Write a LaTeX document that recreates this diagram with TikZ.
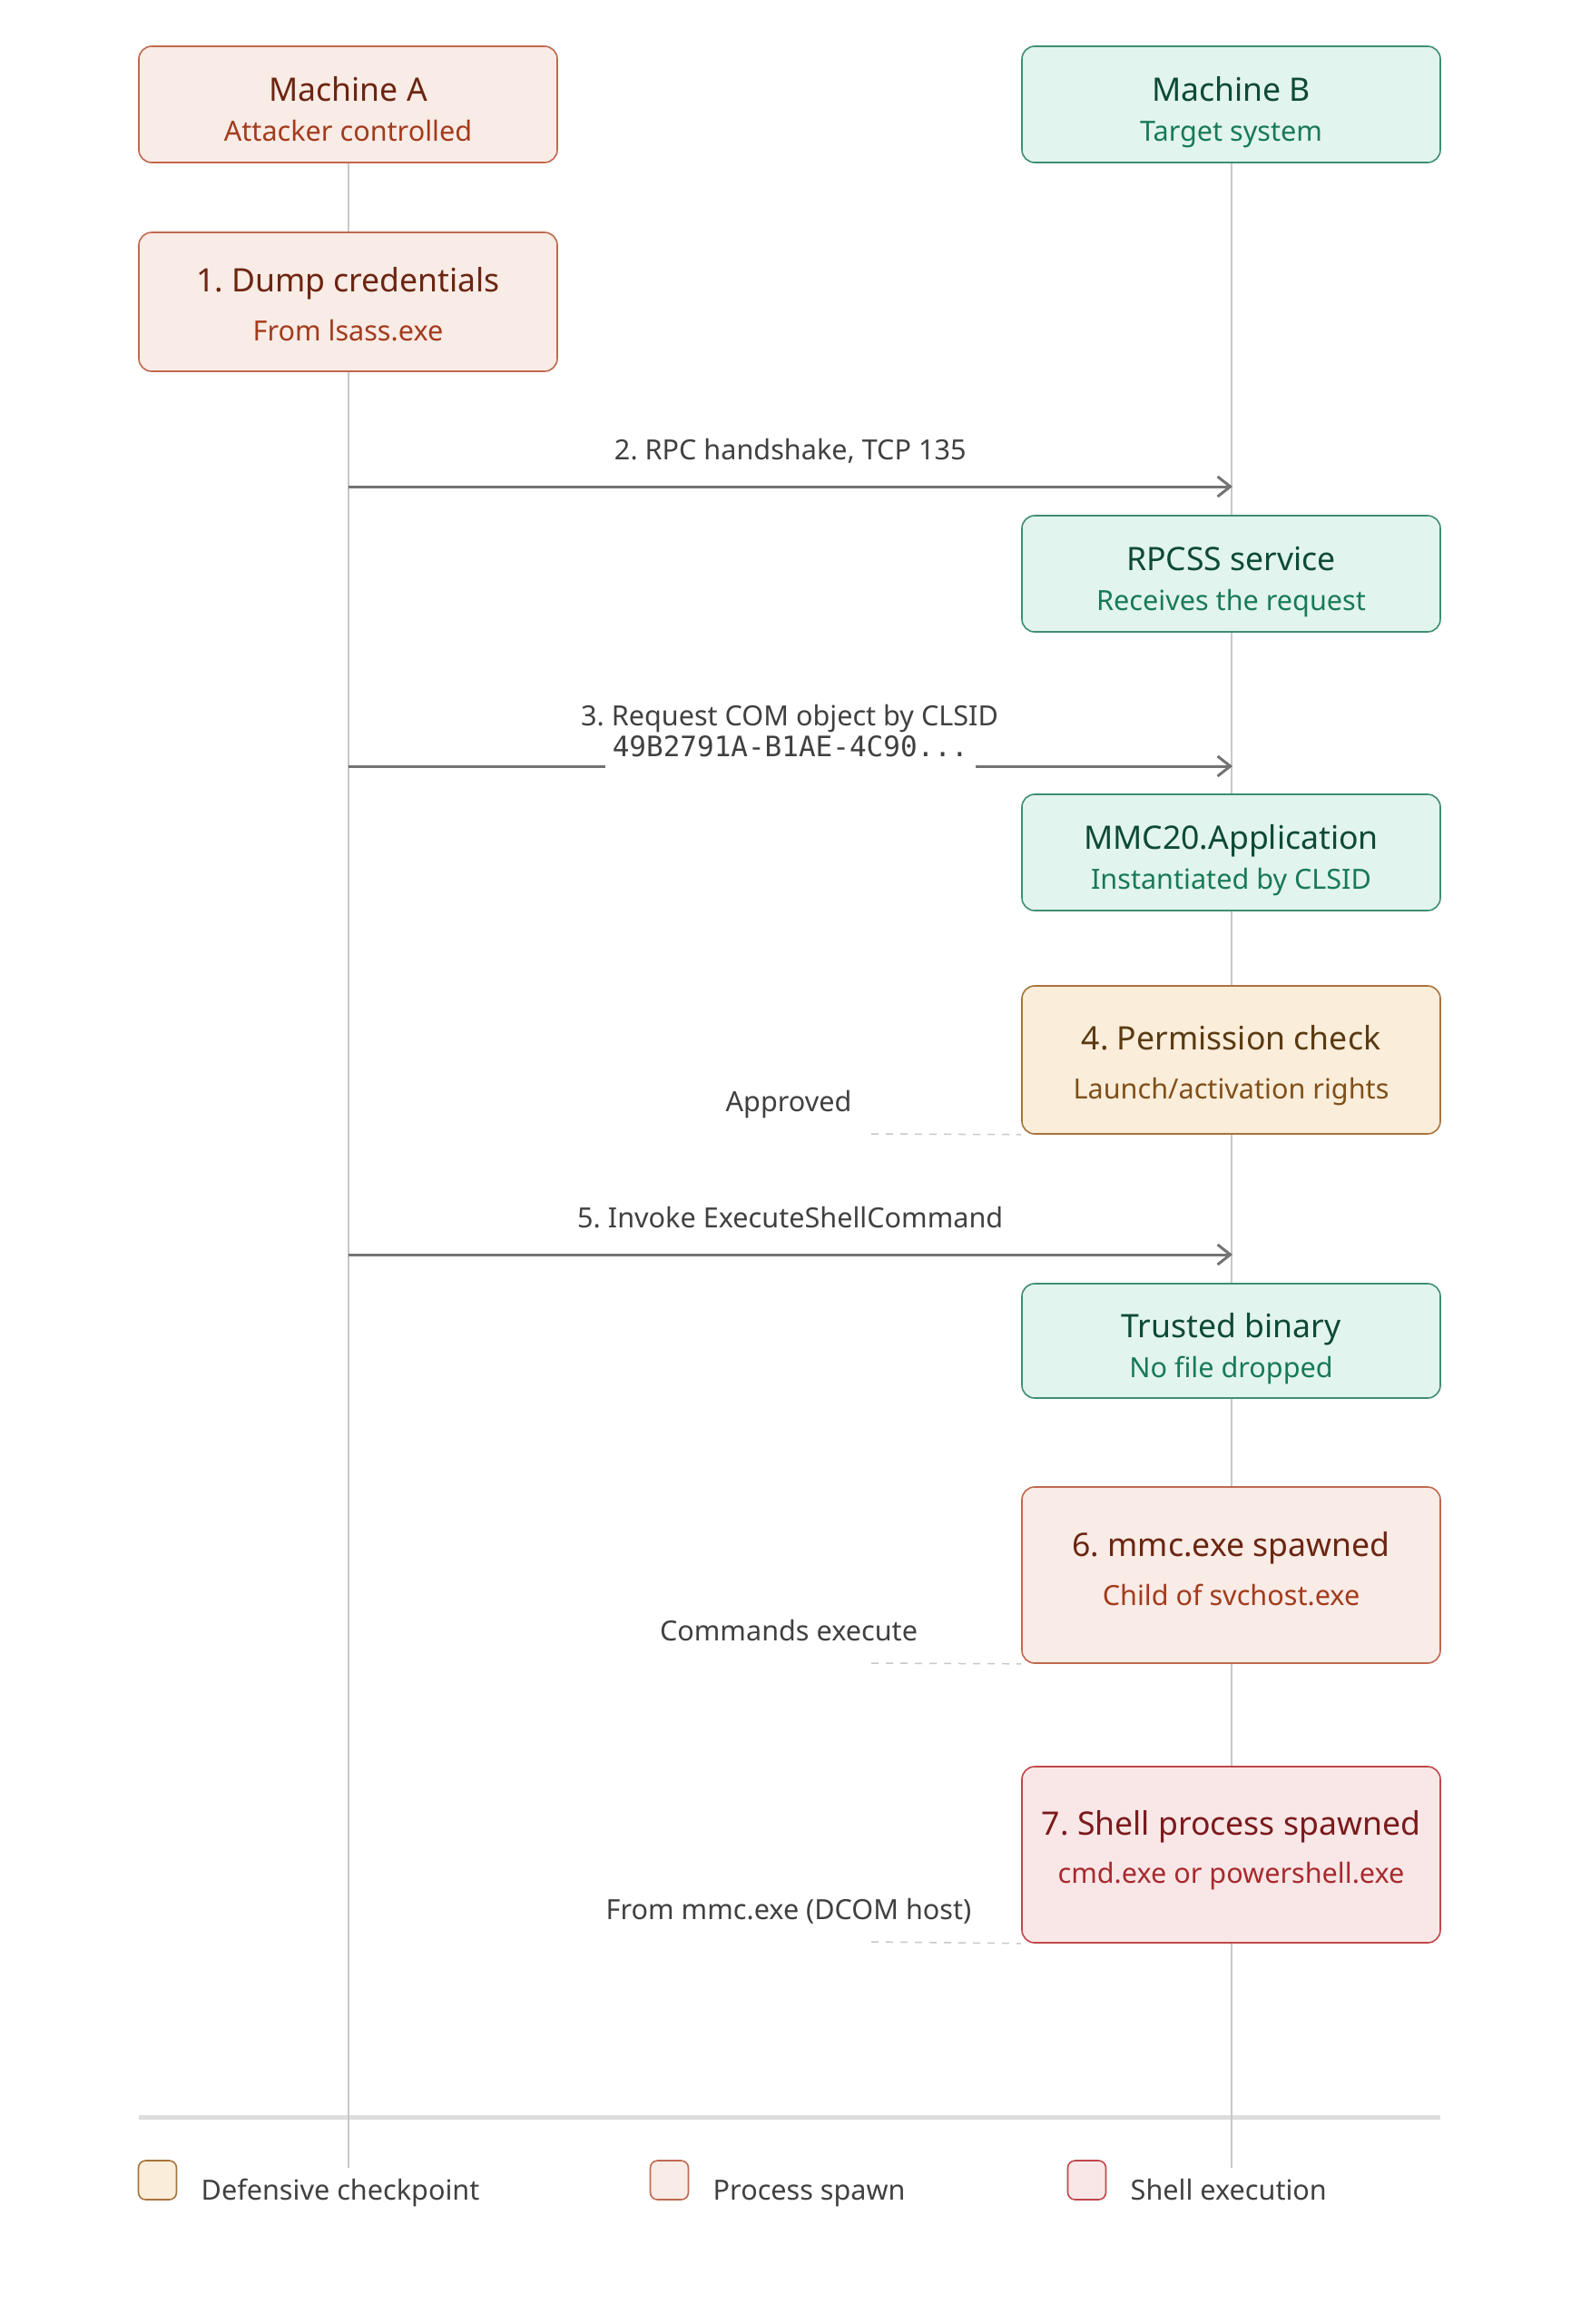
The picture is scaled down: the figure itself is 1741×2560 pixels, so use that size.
\documentclass[tikz,border=0pt]{standalone}
\usepackage{fontspec}
\setmainfont{Noto Sans}
\newfontfamily\monofam{DejaVu Sans Mono}
\usetikzlibrary{arrows.meta, positioning, backgrounds}
\definecolor{lineaVida}{HTML}{C8C8C8}
\definecolor{separador}{HTML}{DDDDDD}
\definecolor{flechaGris}{HTML}{737373}
\definecolor{textoGris}{HTML}{404040}
\definecolor{rojoFondo}{HTML}{F9EBE6}
\definecolor{rojoBorde}{HTML}{C0694F}
\definecolor{rojoTitulo}{HTML}{6B2511}
\definecolor{rojoSub}{HTML}{A33B1C}
\definecolor{verdeFondo}{HTML}{E2F4EE}
\definecolor{verdeBorde}{HTML}{3F8F70}
\definecolor{verdeTitulo}{HTML}{0D4A34}
\definecolor{verdeSub}{HTML}{177A56}
\definecolor{ambarFondo}{HTML}{FAEDDA}
\definecolor{ambarBorde}{HTML}{A8733A}
\definecolor{ambarTitulo}{HTML}{5A3A12}
\definecolor{ambarSub}{HTML}{80501A}
\definecolor{shellFondo}{HTML}{F9E7E7}
\definecolor{shellBorde}{HTML}{C0474A}
\definecolor{shellTitulo}{HTML}{7B1A1C}
\definecolor{shellSub}{HTML}{A82A2E}
\newcommand{\titulo}[2]{{\fontsize{17.8}{20}\selectfont\color{#1}#2}}
\newcommand{\subtitulo}[2]{{\color{#1}#2}}
% #1 = altura de la primera linea (coloca el texto dentro de la caja)
\newcommand{\dos}[5]{\rule{0pt}{#1}\titulo{#2}{#3}\\ \subtitulo{#4}{#5}\rule[-10pt]{0pt}{10pt}}
\frenchspacing

\begin{document}
\begin{tikzpicture}[
  x=0.5pt, y=-0.5pt,
  font=\fontsize{15.3}{20}\selectfont,
  caja/.style={rounded corners=7pt, line width=0.8pt, minimum width=230.5pt,
               align=center, inner xsep=4pt, inner ysep=0pt},
  maquina/.style={caja, minimum height=64pt, font=\fontsize{15.3}{21.7}\selectfont},
  paso/.style={caja, font=\fontsize{15.3}{26.8}\selectfont},
  rojo/.style={draw=rojoBorde, fill=rojoFondo},
  verde/.style={draw=verdeBorde, fill=verdeFondo},
  ambar/.style={draw=ambarBorde, fill=ambarFondo},
  shell/.style={draw=shellBorde, fill=shellFondo},
  vida/.style={draw=lineaVida, line width=1pt},
  flecha/.style={-{Straight Barb[length=7pt, width=11pt]}, draw=flechaGris, line width=1.5pt},
  nota/.style={text=textoGris, inner sep=0pt, anchor=base},
  codigo/.style={text=textoGris, fill=white, inner xsep=4pt, inner ysep=7pt, anchor=base,
                 text depth=0pt, font=\monofam\fontsize{15.5}{18}\selectfont},
  guia/.style={draw=lineaVida, dash pattern=on 4pt off 4pt, line width=0.75pt},
  muestra/.style={rounded corners=4pt, line width=0.8pt, minimum width=21pt,
                  minimum height=21.5pt, inner sep=0pt}
]
\useasboundingbox (0,0) rectangle (1741,2560);

% cabeceras
\node[maquina, rojo] (machA) at (383.5,115) {\dos{28.4pt}{rojoTitulo}{Machine A}{rojoSub}{Attacker controlled}};
\node[maquina, verde] (machB) at (1356.5,115) {\dos{28.4pt}{verdeTitulo}{Machine B}{verdeSub}{Target system}};

% pasos
\node[paso, rojo, minimum height=76.5pt] (dump) at (383.5,332.5) {\dos{26pt}{rojoTitulo}{1. Dump credentials}{rojoSub}{From lsass.exe}};
\node[maquina, verde] (rpcss) at (1356.5,632) {\dos{28.4pt}{verdeTitulo}{RPCSS service}{verdeSub}{Receives the request}};
\node[maquina, verde] (mmcapp) at (1356.5,939) {\dos{28.4pt}{verdeTitulo}{MMC20.Application}{verdeSub}{Instantiated by CLSID}};
\node[paso, ambar, minimum height=81.5pt] (permcheck) at (1356.5,1167.5) {\dos{25.8pt}{ambarTitulo}{4. Permission check}{ambarSub}{Launch/activation rights}};
\node[maquina, verde, minimum height=63pt] (trusted) at (1356.5,1477) {\dos{28.4pt}{verdeTitulo}{Trusted binary}{verdeSub}{No file dropped}};
\node[paso, rojo, minimum height=97pt] (mmcspawn) at (1356.5,1735) {\dos{16.5pt}{rojoTitulo}{6. mmc.exe spawned}{rojoSub}{Child of svchost.exe}};
\node[paso, shell, minimum height=97pt] (shellspawn) at (1356.5,2043) {\dos{14.8pt}{shellTitulo}{7. Shell process spawned}{shellSub}{cmd.exe or powershell.exe}};

% lineas de vida
\coordinate (finA) at (383.5,2388);
\coordinate (finB) at (1356.5,2388);
\coordinate (sepI) at (153,2332);
\coordinate (sepD) at (1587,2332);
\begin{scope}[on background layer]
  \draw[draw=separador, line width=2.5pt] (sepI) -- (sepD);
  \draw[vida] (machA.south) -- (finA);
  \draw[vida] (machB.south) -- (finB);
\end{scope}

% mensajes
\coordinate (m2a) at (383.5,536);
\coordinate (m2b) at (1358,536);
\coordinate (m3a) at (383.5,844);
\coordinate (m3b) at (1358,844);
\coordinate (m5a) at (383.5,1382);
\coordinate (m5b) at (1358,1382);

\draw[flecha] (m2a) -- (m2b) node[nota, midway, yshift=14.75pt] (lbl2) {2. RPC handshake, TCP 135};
\draw[flecha] (m3a) -- (m3b) node[codigo, midway, yshift=5.5pt] (clsid) {49B2791A-B1AE-4C90...};
\node[nota] (lbl3) at (870,799) {3. Request COM object by CLSID};
\draw[flecha] (m5a) -- (m5b) node[nota, midway, yshift=14.75pt] (lbl5) {5. Invoke ExecuteShellCommand};

% notas
\coordinate (n4) at (960,1249);
\coordinate (n6) at (960,1832);
\coordinate (n7) at (960,2139);
\draw[guia] (n4) -- (permcheck.south west);
\draw[guia] (n6) -- (mmcspawn.south west);
\draw[guia] (n7) -- (shellspawn.south west);
\node[nota] (nota4) at (869,1224) {Approved};
\node[nota] (nota6) at (869,1807) {Commands execute};
\node[nota] (nota7) at (869,2114) {From mmc.exe (DCOM host)};

% leyenda
\node[muestra, draw=ambarBorde, fill=ambarFondo] (legDef) at (173.5,2401.5) {};
\node[nota, right=13pt of legDef.south east, anchor=base west] (txtDef) {Defensive checkpoint};
\node[muestra, draw=rojoBorde, fill=rojoFondo] (legProc) at (737.5,2401.5) {};
\node[nota, right=13pt of legProc.south east, anchor=base west] (txtProc) {Process spawn};
\node[muestra, draw=shellBorde, fill=shellFondo] (legShell) at (1197.5,2401.5) {};
\node[nota, right=13pt of legShell.south east, anchor=base west] (txtShell) {Shell execution};

\end{tikzpicture}
\end{document}
